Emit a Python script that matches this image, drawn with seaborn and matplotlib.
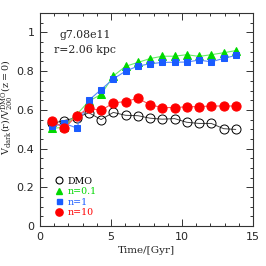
import matplotlib
matplotlib.use("Agg")
import matplotlib.pyplot as plt
from matplotlib.lines import Line2D
from matplotlib.ticker import MultipleLocator
import numpy as np
import pandas as pd
import seaborn as sns

# snapshot times [Gyr]
time = [0.86, 1.72, 2.58, 3.45, 4.31, 5.17, 6.03, 6.90,
        7.76, 8.62, 9.48, 10.34, 11.21, 12.07, 12.93, 13.79]

v_dmo = [0.530, 0.545, 0.560, 0.585, 0.550, 0.587, 0.572, 0.570,
         0.557, 0.552, 0.555, 0.536, 0.530, 0.530, 0.503, 0.499]
v_n01 = [0.505, 0.510, 0.575, 0.645, 0.680, 0.775, 0.825, 0.845,
         0.865, 0.877, 0.877, 0.885, 0.876, 0.885, 0.895, 0.906]
v_n1 = [0.515, 0.530, 0.507, 0.650, 0.705, 0.760, 0.800, 0.826,
        0.838, 0.845, 0.846, 0.847, 0.857, 0.848, 0.866, 0.881]
v_n10 = [0.543, 0.505, 0.569, 0.609, 0.597, 0.636, 0.643, 0.660,
         0.626, 0.612, 0.612, 0.616, 0.617, 0.620, 0.620, 0.620]

labels = ['DMO', 'n=0.1', 'n=1', 'n=10']
colors = ['black', '#00d800', '#1a5cff', '#ff0000']

sns.set_style("ticks")
plt.rcParams['font.family'] = ['DejaVu Serif', 'DejaVu Sans']
plt.rcParams['mathtext.fontset'] = 'dejavuserif'

fig = plt.figure(figsize=(2.66, 2.66), dpi=100)
ax = fig.add_axes([0.150, 0.150, 0.801, 0.801])

df = pd.DataFrame({'time': time, 'DMO': v_dmo, 'n=0.1': v_n01,
                   'n=1': v_n1, 'n=10': v_n10})

# DMO: open circles
sns.lineplot(data=df, x='time', y='DMO', ax=ax, color='#444444', lw=0.7,
             marker='o', markersize=6.5, markerfacecolor='none',
             markeredgecolor='black', markeredgewidth=0.7, zorder=2)
# n=0.1: triangles
sns.lineplot(data=df, x='time', y='n=0.1', ax=ax, color='#66ee66', lw=0.8,
             marker='^', markersize=6, markerfacecolor=colors[1],
             markeredgecolor=colors[1], zorder=3)
# n=1: squares
sns.lineplot(data=df, x='time', y='n=1', ax=ax, color='#5588ff', lw=0.8,
             marker='s', markersize=4.8, markerfacecolor=colors[2],
             markeredgecolor=colors[2], zorder=4)
# n=10: filled circles
sns.lineplot(data=df, x='time', y='n=10', ax=ax, color='#ff5555', lw=0.8,
             marker='o', markersize=6.6, markerfacecolor=colors[3],
             markeredgecolor=colors[3], zorder=5)

ax.set_xlim(0, 15)
ax.set_ylim(0, 1.1)
ax.xaxis.set_major_locator(MultipleLocator(5))
ax.xaxis.set_minor_locator(MultipleLocator(1))
ax.yaxis.set_minor_locator(MultipleLocator(0.05))
ax.set_yticks([0, 0.2, 0.4, 0.6, 0.8, 1])
ax.set_yticklabels(['0', '0.2', '0.4', '0.6', '0.8', '1'])
ax.tick_params(which='both', direction='in', top=True, right=True,
               labelsize=8, width=0.7, color='#333333', pad=4)
ax.tick_params(which='major', length=5)
ax.tick_params(which='minor', length=2.5)
for lab in ax.get_xticklabels() + ax.get_yticklabels():
    lab.set_family('DejaVu Sans')
for s in ax.spines.values():
    s.set_linewidth(0.8)
    s.set_color('#333333')

ax.set_xlabel('Time/[Gyr]', fontsize=7.5, labelpad=3)
ax.set_ylabel(r'$\mathrm{V_{dark}(r)/V^{DMO}_{200}(z=0)}$', fontsize=6.9)
ax.yaxis.set_label_coords(-0.118, 0.555)

ax.text(0.094, 0.895, 'g7.08e11', transform=ax.transAxes, fontsize=7.8,
        va='center')
ax.text(0.066, 0.825, 'r=2.06 kpc', transform=ax.transAxes, fontsize=7.8,
        va='center')

handles = [
    Line2D([], [], ls='none', marker='o', ms=5, mfc='none', mec='black', mew=0.8),
    Line2D([], [], ls='none', marker='^', ms=4.2, mfc=colors[1], mec=colors[1]),
    Line2D([], [], ls='none', marker='s', ms=3.6, mfc=colors[2], mec=colors[2]),
    Line2D([], [], ls='none', marker='o', ms=5.2, mfc=colors[3], mec=colors[3]),
]
leg = ax.legend(handles, labels, loc='lower left', bbox_to_anchor=(0.04, 0.01),
                frameon=False, fontsize=6.8, handlelength=0.8,
                handletextpad=0.5, labelspacing=0.17, borderpad=0.2)
for t, c in zip(leg.get_texts(), colors):
    t.set_color(c)

fig.savefig('out.png', dpi=100)
